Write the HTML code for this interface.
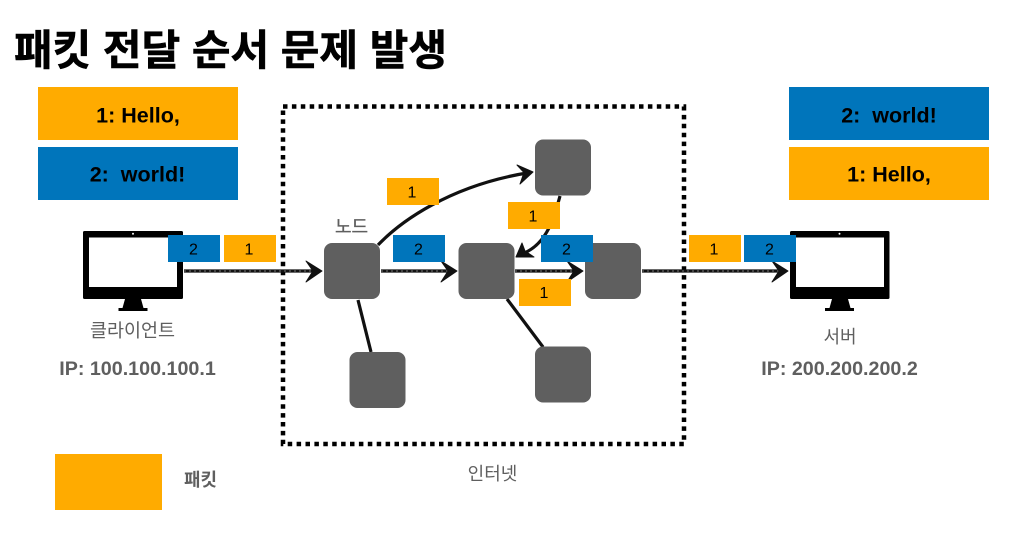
<!DOCTYPE html>
<html lang="ko">
<head>
<meta charset="utf-8">
<style>
html,body{margin:0;padding:0;background:#fff;}
body{width:1009px;height:533px;overflow:hidden;position:relative;}
svg{position:absolute;left:0;top:0;}
text{font-family:"Liberation Sans","Noto Sans CJK KR",sans-serif;}
</style>
</head>
<body>
<svg width="1009" height="533" viewBox="0 0 1009 533" xmlns="http://www.w3.org/2000/svg">
<rect width="1009" height="533" fill="#fff"/>
<text x="14" y="65" font-size="42" font-weight="700" fill="#000" stroke="#000" stroke-width="0.6" textLength="433" lengthAdjust="spacing">패킷 전달 순서 문제 발생</text>

<rect x="38" y="87" width="200" height="53" fill="#ffab00"/>
<rect x="38" y="147" width="200" height="53" fill="#0075bb"/>
<rect x="789" y="87" width="200" height="53" fill="#0075bb"/>
<rect x="789" y="147" width="200" height="53" fill="#ffab00"/>
<g font-size="21.500" font-weight="700" fill="#000" text-anchor="middle">
<text x="138" y="122.500">1: Hello,</text>
<text x="137.500" y="181.500" xml:space="preserve">2:  world!</text>
<text x="889" y="122.500" xml:space="preserve">2:  world!</text>
<text x="889" y="181.500">1: Hello,</text>
</g>

<rect x="283" y="106.500" width="401" height="337.500" fill="none" stroke="#000" stroke-width="4.500" stroke-dasharray="4.500 4.400"/>

<!-- monitors -->
<g>
<rect x="83" y="231" width="100" height="68" rx="1.500" fill="#000"/>
<rect x="89" y="237.500" width="88" height="49.500" fill="#fff"/>
<circle cx="133" cy="233.800" r="1" fill="#fff"/>
<path d="M125 299H141L143.500 308H147.500V311H118.500V308H122.500Z" fill="#000"/>
</g>
<g>
<rect x="790" y="231" width="99.500" height="68" rx="1.500" fill="#000"/>
<rect x="796" y="237.500" width="88" height="49.500" fill="#fff"/>
<circle cx="839.500" cy="233.800" r="1" fill="#fff"/>
<path d="M832 299H848L850.500 308H854V311H825V308H829.500Z" fill="#000"/>
</g>

<!-- connectors -->
<g fill="none" stroke="#111" stroke-width="3.200">
<line x1="184" y1="271" x2="318" y2="271"/>
<line x1="381" y1="271" x2="453" y2="271"/>
<line x1="515" y1="271" x2="579" y2="271"/>
<line x1="642" y1="271" x2="784" y2="271"/>
<line x1="358" y1="300" x2="371" y2="352"/>
<line x1="507" y1="299" x2="543" y2="347"/>
<path d="M378 245C400 222 450 185 530 172.500"/>
<path d="M560 196C553 222 545 247 519 255"/>
</g>
<g fill="none" stroke="#777" stroke-width="1" stroke-dasharray="2 3">
<line x1="184" y1="271" x2="318" y2="271"/>
<line x1="381" y1="271" x2="453" y2="271"/>
<line x1="515" y1="271" x2="579" y2="271"/>
<line x1="642" y1="271" x2="784" y2="271"/>
</g>
<g fill="#111" stroke="#111" stroke-width="1" stroke-linejoin="round">
<path d="M306 261L322 271L306 282L313 271Z"/>
<path d="M441 261L457 271L441 282L448 271Z"/>
<path d="M567 261L583 271L567 282L574 271Z"/>
<path d="M772 261L788 271L772 282L779 271Z"/>
<path d="M517 165L533 172L520 184L524 172.500Z"/>
<path d="M516 257L522 243L525 251L534 257Z"/>
</g>

<!-- nodes -->
<g fill="#5f5f5f">
<rect x="324" y="243" width="56" height="56" rx="8"/>
<rect x="458.500" y="243" width="56" height="56" rx="8"/>
<rect x="585" y="243" width="56" height="56" rx="8"/>
<rect x="535" y="139.500" width="56" height="56" rx="8"/>
<rect x="349.500" y="352" width="56" height="56" rx="8"/>
<rect x="535" y="346.500" width="56" height="56" rx="8"/>
</g>

<!-- packets -->
<g fill="#0075bb">
<rect x="168" y="235" width="52" height="27"/>
<rect x="393" y="235" width="52" height="27"/>
<rect x="541" y="235" width="52" height="27"/>
<rect x="744" y="235" width="52" height="27"/>
</g>
<g fill="#ffab00">
<rect x="224" y="235" width="52" height="27"/>
<rect x="387" y="178" width="52" height="27"/>
<rect x="508" y="202" width="52" height="27"/>
<rect x="519" y="279" width="52" height="27"/>
<rect x="689" y="235" width="52" height="27"/>
</g>
<g font-size="16" fill="#000" text-anchor="middle">
<text x="193.500" y="254.500">2</text>
<text x="249" y="254.500">1</text>
<text x="418.500" y="254.500">2</text>
<text x="566.500" y="254.500">2</text>
<text x="769.500" y="254.500">2</text>
<text x="714" y="254.500">1</text>
<text x="412" y="197.500">1</text>
<text x="533" y="221.500">1</text>
<text x="544" y="298">1</text>
</g>

<rect x="55" y="454" width="107" height="56" fill="#ffab00"/>

<!-- labels -->
<g fill="#5f5f5f" text-anchor="middle">
<text x="132.500" y="337" font-size="18.500">클라이언트</text>
<text x="840" y="343" font-size="18">서버</text>
<text x="351.500" y="233" font-size="18" stroke="#5f5f5f" stroke-width="0.3">노드</text>
<text x="492.500" y="480" font-size="18">인터넷</text>
<text x="200.500" y="486" font-size="18" font-weight="700">패킷</text>
<text x="137.500" y="375" font-size="19.700" font-weight="700">IP: 100.100.100.1</text>
<text x="839.500" y="375" font-size="19.700" font-weight="700">IP: 200.200.200.2</text>
</g>
</svg>
</body>
</html>
